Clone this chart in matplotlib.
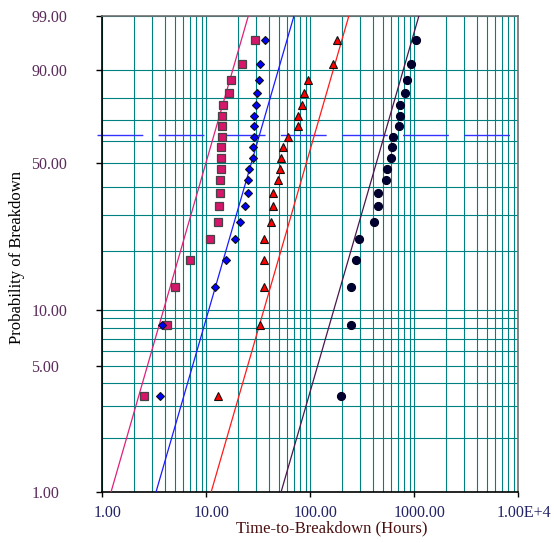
import numpy as np
import matplotlib
matplotlib.use("Agg")
import matplotlib.pyplot as plt
from matplotlib.transforms import ScaledTranslation

plt.rcParams['font.family'] = ['Liberation Serif', 'DejaVu Serif']

# median rank plotting positions (%)
prob = [3.4, 8.3, 13.2, 18.1, 23.0, 27.9, 32.8, 37.7, 42.6, 47.5,
        52.5, 57.4, 62.3, 67.2, 72.1, 77.0, 81.9, 86.8, 91.7, 96.6]

# breakdown times (hours) for the four groups
t_square = [2.53, 4.16, 5.04, 6.93, 10.85, 12.96, 13.3, 13.5, 13.6, 13.7,
            13.8, 13.8, 14.1, 14.2, 14.3, 14.4, 16.6, 17.2, 22.0, 29.2]
t_diamond = [3.56, 3.78, 12.2, 15.4, 18.75, 21.1, 23.4, 25.2, 25.3, 25.7,
             28.3, 28.3, 28.6, 28.7, 28.9, 29.9, 30.5, 32.1, 32.6, 36.7]
t_triangle = [13.0, 32.8, 36.1, 36.1, 36.1, 42.2, 43.5, 43.8, 49.2, 51.5,
              52.6, 54.3, 61.0, 75.7, 75.7, 83.2, 87.6, 95.0, 164.0, 179.4]
t_circle = [196, 244, 246, 273, 296, 412, 445, 445, 531, 551,
            597, 611, 624, 707, 723, 729, 814, 851, 936, 1038]

# fitted weibull lines (shape, scale)
beta = [2.015, 2.005, 2.009, 2.007]
eta = [11.87, 32.5, 109.7, 517.0]

yticks = [1, 5, 10, 50, 90, 99]
ytick_labels = ["1.00", "5.00", "10.00", "50.00", "90.00", "99.00"]
xticks = [1, 10, 100, 1000, 10000]
xtick_labels = ["1.00", "10.00", "100.00", "1000.00", "1.00E+4"]
ygrid = [1, 2, 3, 4, 5, 6, 7, 8, 9, 10, 20, 30, 40, 50, 60, 70, 80, 90]


def fwd(p):
    p = np.clip(np.asarray(p, dtype=float), 1e-6, 100 - 1e-6)
    return np.log(-np.log(1 - p / 100.0))


def inv(w):
    return 100.0 * (1 - np.exp(-np.exp(w)))


fig = plt.figure(figsize=(5.54, 5.43), dpi=100)
ax = fig.add_axes([0.1847, 0.0934, 0.7509, 0.8772])
ax.set_xscale('log')
ax.set_yscale('function', functions=(fwd, inv))
ax.set_xlim(1, 10000)
ax.set_ylim(1, 99)

teal = '#008080'
ax.set_yticks(yticks)
ax.set_yticklabels(ytick_labels)
ax.set_yticks([g for g in ygrid if g not in yticks], minor=True)
ax.set_xticks(xticks)
ax.set_xticklabels(xtick_labels)
ax.xaxis.set_minor_locator(matplotlib.ticker.LogLocator(base=10, subs=np.arange(2, 10)))
ax.xaxis.set_minor_formatter(matplotlib.ticker.NullFormatter())
ax.grid(True, which='both', color=teal, linewidth=0.8)
ax.set_axisbelow(True)

ax.tick_params(axis='both', which='minor', length=0)
ax.tick_params(axis='y', which='major', direction='out', length=4, width=1,
               pad=47, labelsize=11.5, labelcolor='#5a2a5a')
ax.tick_params(axis='x', which='major', direction='out', length=3.5, width=1,
               pad=5.5, labelsize=11.5, labelcolor='#222266')
for lab in ax.get_yticklabels():
    lab.set_horizontalalignment('left')
for lab in ax.get_xticklabels():
    lab.set_transform(lab.get_transform() + ScaledTranslation(4 / 72, 0, fig.dpi_scale_trans))

for side in ['top', 'right']:
    ax.spines[side].set_color('#707070')
    ax.spines[side].set_linewidth(1.2)
for side in ['left', 'bottom']:
    ax.spines[side].set_color('black')
    ax.spines[side].set_linewidth(1.2)

# 63.2% characteristic life line
ax.plot([-0.0135, 0.982], [63.2, 63.2], transform=ax.get_yaxis_transform(),
        color='#3333ff', linewidth=1.0, dashes=(33, 11), clip_on=False, zorder=2)

# fit lines
line_colors = ['#e0207a', '#1a1aff', '#ff1a1a', '#4b164b']
pp = np.linspace(0.5, 99.5, 200)
for b, e, c in zip(beta, eta, line_colors):
    tt = e * (-np.log(1 - pp / 100.0)) ** (1.0 / b)
    ax.plot(tt, pp, color=c, linewidth=0.9, zorder=3)

ax.plot(t_square, prob, 's', ms=5.8, mfc='#d6156b', mec='#444444', mew=0.9, zorder=4)
ax.plot(t_diamond, prob, 'D', ms=4.0, mfc='#0000ff', mec='#111111', mew=0.8, zorder=4)
ax.plot(t_triangle, prob, '^', ms=5.5, mfc='#ff0000', mec='#111111', mew=0.8, zorder=4)
ax.plot(t_circle, prob, 'o', ms=5.8, mfc='#000033', mec='#000022', mew=0.8, zorder=4)

ax.set_xlabel("Time-to-Breakdown (Hours)", fontsize=12, color='#4a1010')
ax.xaxis.set_label_coords(0.552, -0.06)
fig.text(17 / 554, 1 - 257 / 543, "Probability of Breakdown", rotation=90,
         ha='center', va='center', fontsize=12, color='black')

fig.savefig("out.png", dpi=100)
